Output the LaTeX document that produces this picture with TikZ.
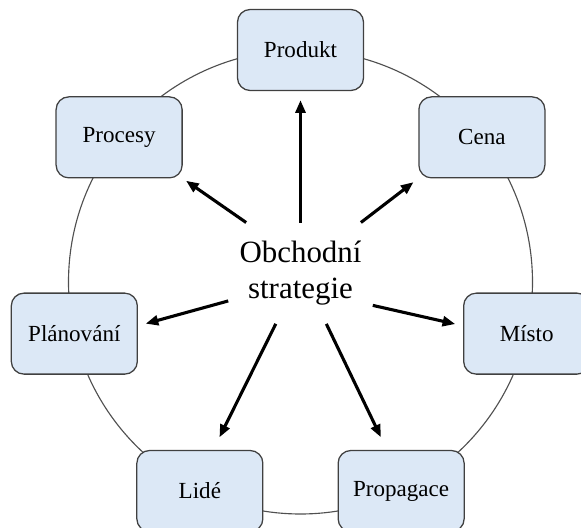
\documentclass[tikz,border=0pt]{standalone}
\usepackage{fontspec}
\setmainfont{Liberation Serif}
\usetikzlibrary{arrows.meta}
\definecolor{svetlemodra}{RGB}{220,232,246}
\definecolor{ramecek}{RGB}{64,64,64}
\definecolor{kruhova}{RGB}{80,80,80}

\begin{document}
\begin{tikzpicture}
\tikzset{okno/.style={draw=ramecek, line width=0.9pt, fill=svetlemodra, rounded corners=9pt, minimum width=3.15cm, minimum height=2.025cm, inner sep=0pt, font=\fontsize{16.4}{19}\selectfont}}
\tikzset{sipka/.style={-{Triangle[length=9pt,width=7pt]}, line width=2.2pt}}
\useasboundingbox (-7.5125, -6.15) rectangle (7.0125, 7.05);
\clip (-7.5125, -6.15) rectangle (7.0125, 7.05);
\draw[kruhova, line width=0.8pt] (0,0) circle (5.8cm);
\node[okno] (produkt) at (90:5.8cm) {Produkt};
\node[okno] (cena) at (38.57:5.8cm) {Cena};
\node[okno] (misto) at (-12.86:5.8cm) {Místo};
\node[okno] (propagace) at (-64.29:5.8cm) {Propagace};
\node[okno] (lide) at (-115.71:5.8cm) {Lidé};
\node[okno] (planovani) at (-167.14:5.8cm) {Plánování};
\node[okno] (procesy) at (141.43:5.8cm) {Procesy};
\node[minimum width=3.6cm, minimum height=2.52cm, align=center, font=\fontsize{22}{25.5}\selectfont] (strat) at (0,0.22) {Obchodní\\strategie};
\draw[sipka, shorten >=0.225cm] (strat.north) -- (produkt.south);
\draw[sipka, shorten >=0.15cm] (strat.40) -- (cena.south west);
\draw[sipka, shorten >=0.1cm] (strat.137) -- (procesy.south east);
\draw[sipka, shorten >=0.2cm] (strat.-24) -- (misto.173);
\draw[sipka, shorten >=0.2cm] (strat.201) -- (planovani.7);
\draw[sipka, shorten >=0.35cm] (strat.244) -- (lide.72);
\draw[sipka, shorten >=0.35cm] (strat.297) -- (propagace.109);
\end{tikzpicture}
\end{document}
